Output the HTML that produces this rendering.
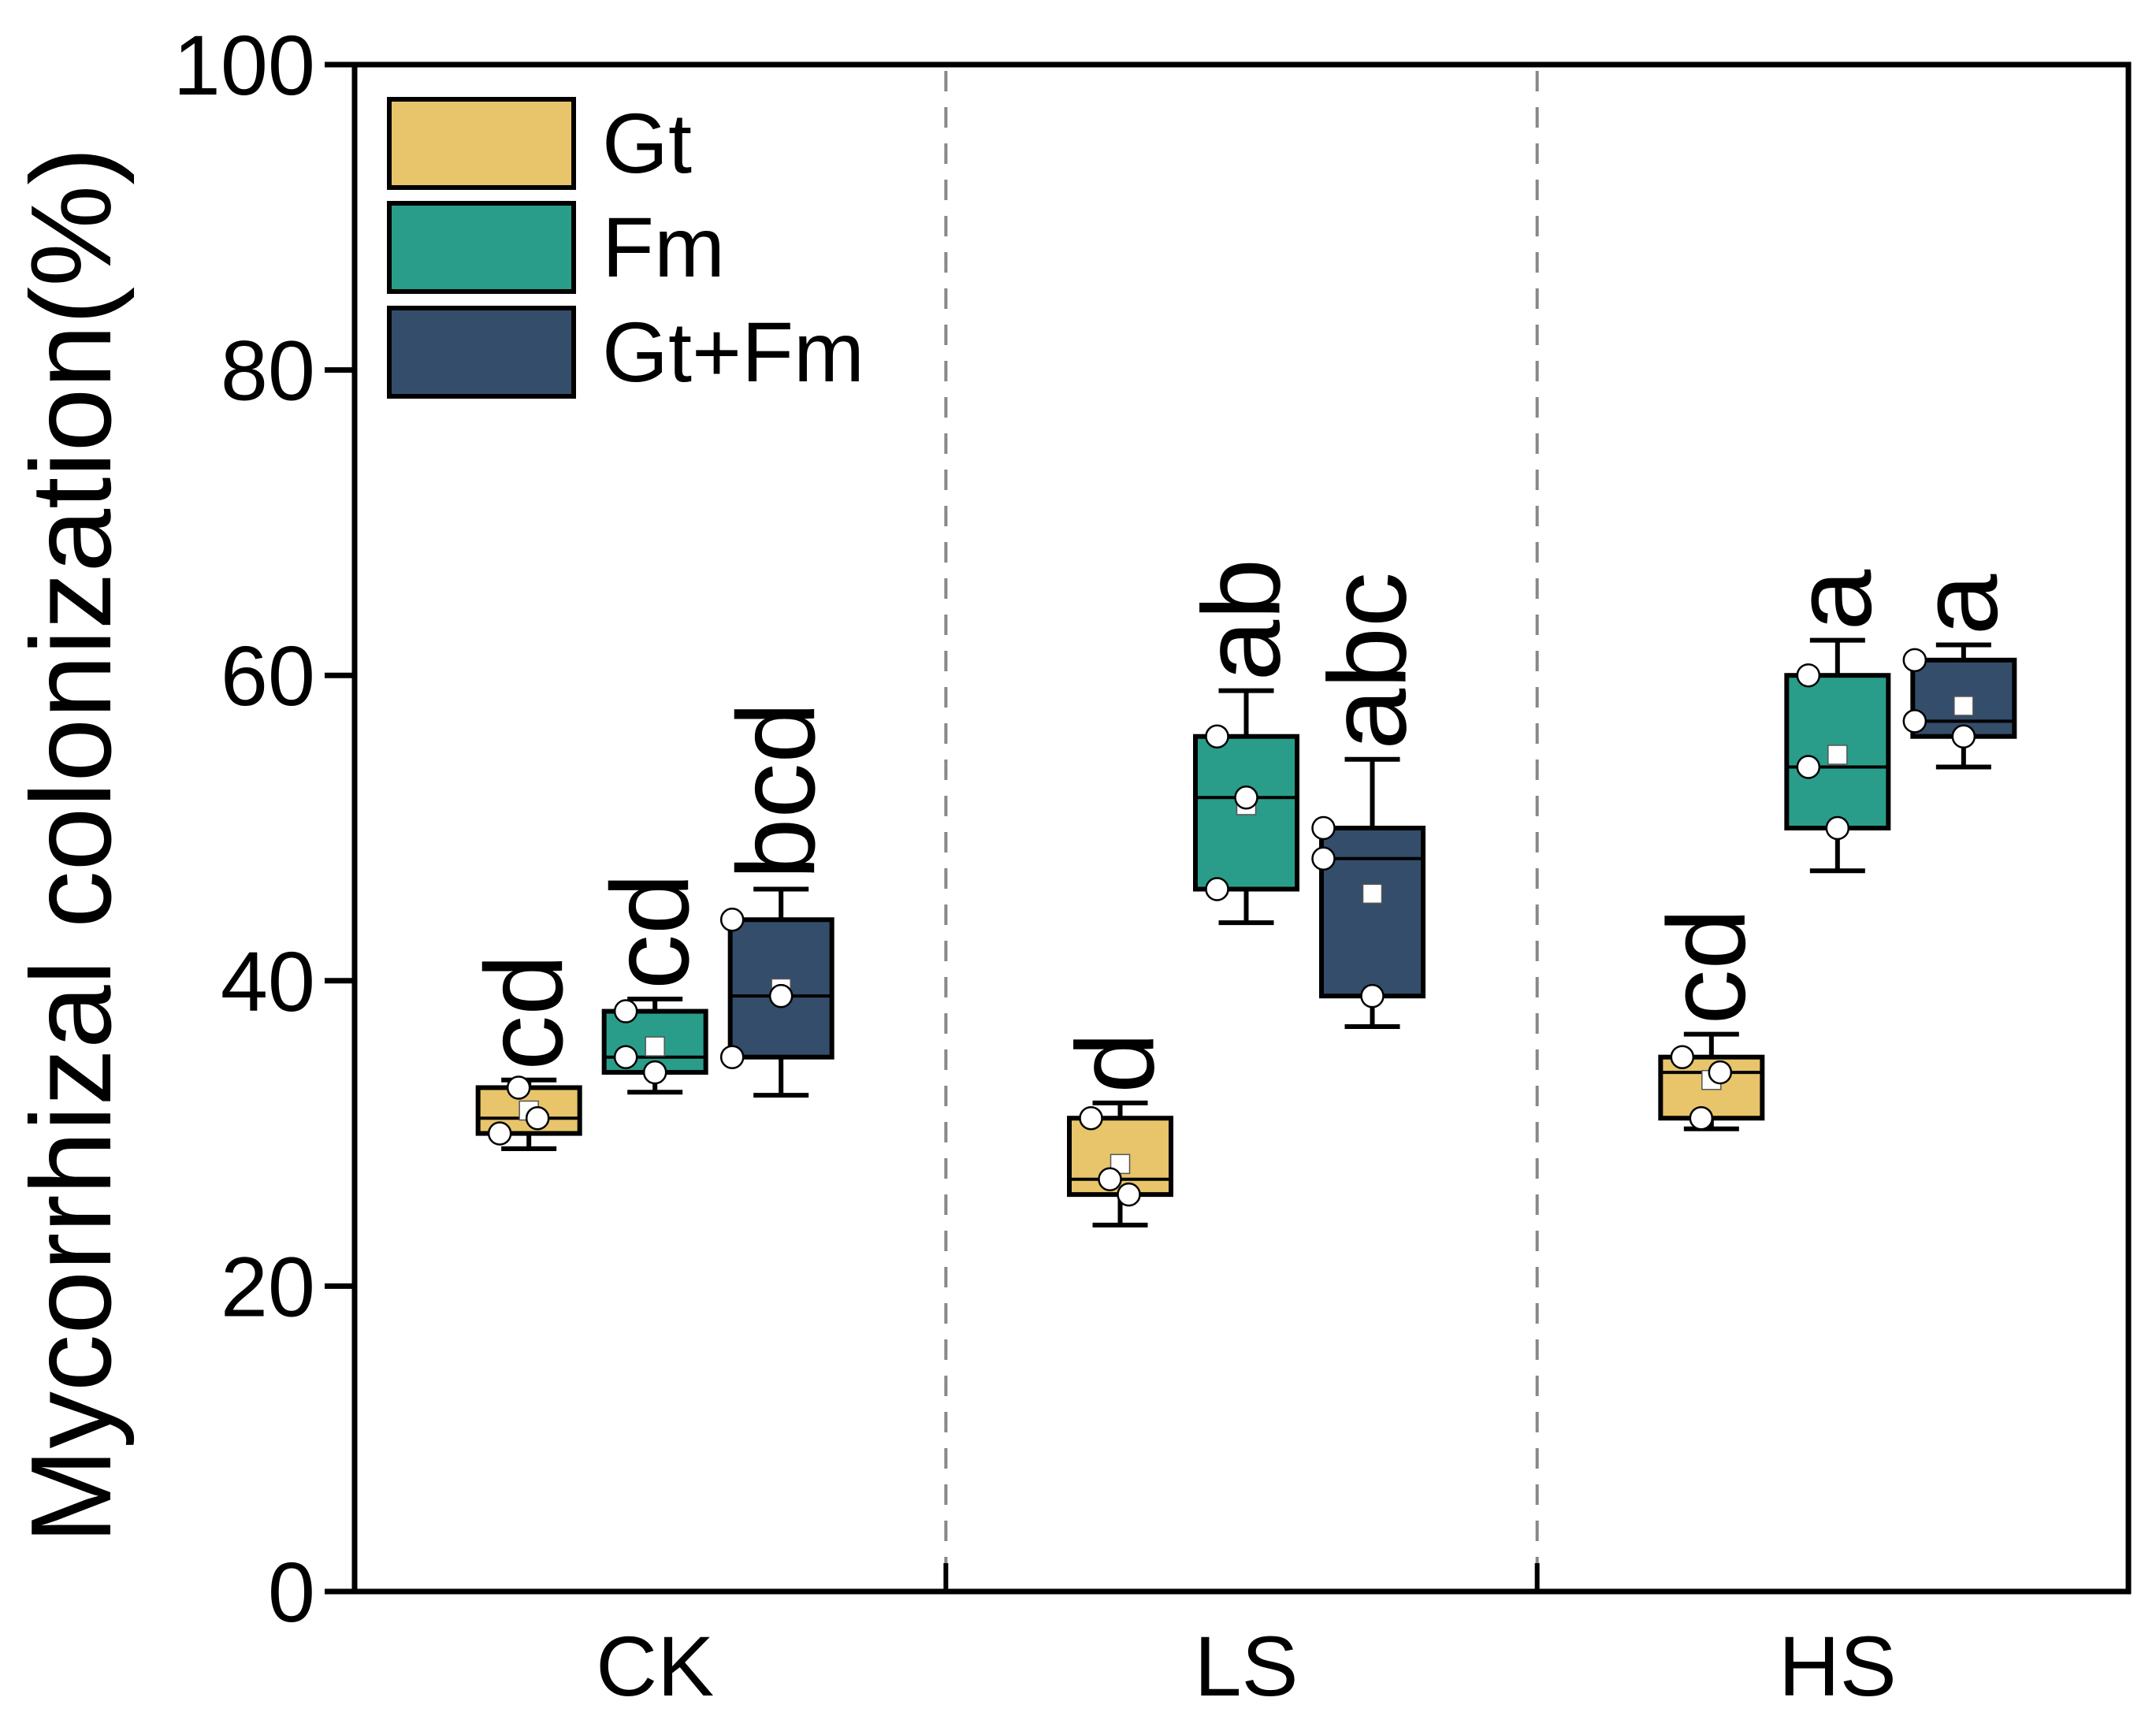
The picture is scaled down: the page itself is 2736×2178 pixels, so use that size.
<!DOCTYPE html>
<html><head><meta charset="utf-8"><style>
html,body{margin:0;padding:0;background:#fff}
svg{display:block}
text{font-family:"Liberation Sans",Arial,sans-serif;fill:#000}
</style></head><body>
<svg id="chart" width="2736" height="2178" viewBox="0 0 2736 2178" xmlns="http://www.w3.org/2000/svg">
<g id="plot"></g>
</svg>
<script>
const categories = ["CK","LS","HS"];
const series = ["Gt","Fm","Gt+Fm"];
const colors = ["#E8C46B","#2A9D8A","#344D6A"];
// per category, per series: [whiskerLow, q1, median, q3, whiskerHigh, mean]
const stats = [
  [[29,30,31,33,33.5,31.5],[32.7,34,35,38,38.8,35.7],[32.5,35,39,44,46,39.5]],
  [[24,26,27,31,32,28],[43.8,46,52,56,59,51.5],[37,39,48,50,54.5,45.7]],
  [[30.3,31,34,35,36.5,33.5],[47.2,50,54,60,62.3,54.8],[54,56,57,61,62,58]]
];
const points = [
  [[30,33,31],[35,38,34],[44,35,39]],
  [[31,27,26],[56,46,52],[50,48,39]],
  [[35,31,34],[60,54,50],[61,57,56]]
];
const letters = [["cd","cd","bcd"],["d","ab","abc"],["cd","a","a"]];
const yTicks = [0,20,40,60,80,100];

const L=450,R=2701,T=82,B=2020;
const y=v=>B-(v/100)*(B-T);
const groupW=(R-L)/3;
const cx=i=>L+groupW*(i+0.5)+6;
const off=[-160,0,160];
const jitter=[[-37,-13,11],[-37,-37,0],[-62,-62,0]];
const NS="http://www.w3.org/2000/svg";
const g=document.getElementById('plot');
function el(tag,attrs,parent){const e=document.createElementNS(NS,tag);for(const k in attrs)e.setAttribute(k,attrs[k]);(parent||g).appendChild(e);return e;}

for(let i=1;i<3;i++){
  const x=L+groupW*i;
  const d=el('line',{x1:x,x2:x,y1:T+8,y2:B-36,stroke:'#888',"stroke-width":4,"stroke-dasharray":"26 20"});
  
  
  const tk=el('line',{x1:x,x2:x,y1:B-36,y2:B,stroke:'#000',"stroke-width":6});
  
  
}
yTicks.forEach(v=>{
  const t=el('line',{x1:L-38,x2:L,y1:y(v),y2:y(v),stroke:'#000',"stroke-width":7});
  
  
  const tx=el('text',{x:L-50,y:y(v)+38,"text-anchor":"end","font-size":108});
  tx.textContent=v;
  
  
});
const bw=129,cap=70;
categories.forEach((c,i)=>{
  series.forEach((s,j)=>{
    const [wl,q1,md,q3,wh,mn]=stats[i][j];
    const x=cx(i)+off[j];
    const grp=el('g',{});
    
    
    const sw={stroke:'#000',"stroke-width":6};
    el('line',Object.assign({x1:x,x2:x,y1:y(wh),y2:y(q3)},sw),grp);
    el('line',Object.assign({x1:x,x2:x,y1:y(q1),y2:y(wl)},sw),grp);
    el('line',Object.assign({x1:x-cap/2,x2:x+cap/2,y1:y(wh),y2:y(wh)},sw),grp);
    el('line',Object.assign({x1:x-cap/2,x2:x+cap/2,y1:y(wl),y2:y(wl)},sw),grp);
    el('rect',Object.assign({x:x-bw/2,y:y(q3),width:bw,height:y(q1)-y(q3),fill:colors[j]},sw),grp);
    el('line',{x1:x-bw/2,x2:x+bw/2,y1:y(md),y2:y(md),stroke:'#000',"stroke-width":4},grp);
    el('rect',{x:x-12,y:y(mn)-12,width:24,height:24,fill:'#fff',stroke:'#555',"stroke-width":1.5},grp);
    points[i][j].forEach((p,k)=>{
      const pt=el('circle',{cx:x+jitter[j][k],cy:y(p),r:14,fill:'#fff',stroke:'#000',"stroke-width":2.5},grp);
      
      
    });
    const ly=y(wh)-12;
    const lt=el('text',{x:0,y:0,"font-size":140,transform:`translate(${x+42},${ly}) rotate(-90)`});
    lt.textContent=letters[i][j];
    
    
  });
  const cl=el('text',{x:cx(i),y:2152,"text-anchor":"middle","font-size":108});
  cl.textContent=c;
  
  
});
const fr=el('rect',{x:L,y:T,width:R-L,height:B-T,fill:'none',stroke:'#000',"stroke-width":7});


const at=el('text',{x:0,y:0,"text-anchor":"middle","font-size":145,transform:`translate(140,1073) rotate(-90)`});
at.textContent="Mycorrhizal colonization(%)";


const lg=el('g',{});


const legY=[126,258,391];
series.forEach((s,j)=>{
  const r=el('rect',{x:494,y:legY[j],width:234,height:112,fill:colors[j],stroke:'#000',"stroke-width":6},lg);
  
  
  const t=el('text',{x:764,y:legY[j]+93,"font-size":108},lg);
  t.textContent=s;
  
  
});
</script>
</body></html>
